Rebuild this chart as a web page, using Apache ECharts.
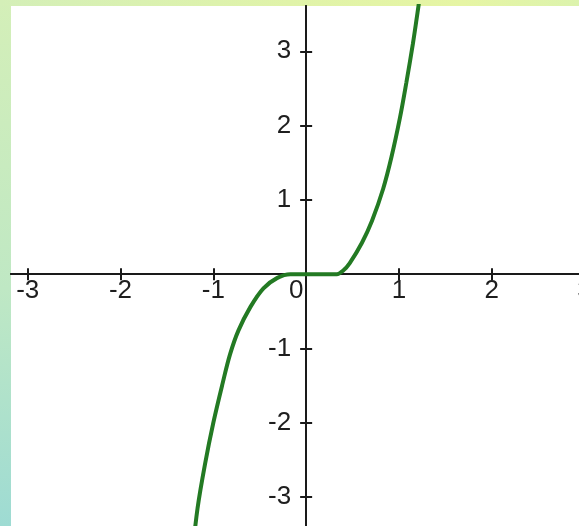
<!DOCTYPE html>
<html>
<head>
<meta charset="utf-8">
<script src="https://cdn.jsdelivr.net/npm/echarts@6/dist/echarts.min.js"></script>
<style>
html, body { margin: 0; padding: 0; width: 579px; height: 526px; overflow: hidden; }
body { background: linear-gradient(to bottom, #d4efb8 0%, #bfe8c4 55%, #9edbd3 100%); position: relative; }
#top { position: absolute; left: 0; top: 0; width: 579px; height: 6px;
  background: linear-gradient(to right, #d4efb8 0%, #e0f3a9 50%, #e6f5a4 80%, #dcf3ad 100%); }
#paper { position: absolute; left: 11px; top: 6px; width: 568px; height: 520px; background: #ffffff; }
#chart { position: absolute; left: 0; top: 0; width: 579px; height: 526px; }
</style>
</head>
<body>
<div id="top"></div>
<div id="paper"></div>
<div id="chart"></div>
<script>
// Curve points
const curveX = [-1.22, -1.17, -1.09, -1.00, -0.90, -0.82, -0.73, -0.60, -0.46, -0.31, -0.17, 0.00, 0.20, 0.33, 0.40, 0.47, 0.60, 0.71, 0.83, 0.92, 1.01, 1.08, 1.15, 1.20, 1.23];
const curveY = [-3.70, -3.15, -2.56, -2.00, -1.47, -1.08, -0.76, -0.44, -0.19, -0.05, 0.00, 0.00, 0.00, 0.00, 0.05, 0.15, 0.42, 0.72, 1.15, 1.58, 2.10, 2.58, 3.10, 3.52, 3.78];
const xTicks = [-3, -2, -1, 0, 1, 2, 3];
const yTicks = [-3, -2, -1, 1, 2, 3];
const xLabelValues = [-3, -2, -1, 0, 1, 2, 3];
const xLabels = ['-3', '-2', '-1', '0', '1', '2', '3'];
const yLabels = ['-3', '-2', '-1', '1', '2', '3'];
const xRange = [-3.18, 2.94];
const yRange = [-3.39, 3.61];

const chart = echarts.init(document.getElementById('chart'));
const font = { fontFamily: 'Liberation Sans', fontSize: 26, color: '#1e1e1e', opacity: 1 };
const axisLine = { show: true, onZero: true, lineStyle: { color: '#1a1a1a', width: 2 } };
const tick = (vals) => ({ show: true, length: 6, lineStyle: { color: '#1a1a1a', width: 2 }, customValues: vals });

chart.setOption({
  animation: false,
  grid: { left: 11, top: 6, right: 0, bottom: 0, show: false, outerBoundsMode: 'none' },
  xAxis: [
    { type: 'value', position: 'bottom', min: xRange[0], max: xRange[1], axisLine: axisLine,
      axisTick: tick(xTicks), splitLine: { show: false }, axisLabel: { show: false } },
    { type: 'value', position: 'top', min: xRange[0], max: xRange[1], axisLine: axisLine,
      axisTick: tick(xTicks), splitLine: { show: false }, axisLabel: { show: false } }
  ],
  yAxis: [
    { type: 'value', position: 'left', min: yRange[0], max: yRange[1], axisLine: axisLine,
      axisTick: tick(yTicks), splitLine: { show: false }, axisLabel: { show: false } },
    { type: 'value', position: 'right', min: yRange[0], max: yRange[1], axisLine: axisLine,
      axisTick: tick(yTicks), splitLine: { show: false }, axisLabel: { show: false } }
  ],
  series: [
    {
      type: 'line', xAxisIndex: 0, yAxisIndex: 0, showSymbol: false, smooth: 0.35,
      lineStyle: { color: '#237a23', width: 4 },
      data: curveX.map((x, i) => [x, curveY[i]])
    },
    {
      // x tick labels, placed through the x scale at y = 0
      type: 'scatter', xAxisIndex: 0, yAxisIndex: 0, symbolSize: 2, silent: true, clip: false,
      itemStyle: { color: 'rgba(0,0,0,0)' },
      label: Object.assign({ show: true, position: 'bottom', distance: 3,
        formatter: p => xLabels[p.dataIndex] }, font),
      labelLayout: p => (xLabelValues[p.dataIndex] === 0 ? { dx: -10 } : {}),
      data: xLabelValues.map(v => [v, 0])
    },
    {
      // y tick labels, placed through the y scale at x = 0
      type: 'scatter', xAxisIndex: 0, yAxisIndex: 0, symbolSize: 2, silent: true, clip: false,
      itemStyle: { color: 'rgba(0,0,0,0)' },
      label: Object.assign({ show: true, position: 'left', distance: 14,
        formatter: p => yLabels[p.dataIndex] }, font),
      data: yTicks.map(v => [0, v])
    }
  ]
});
</script>
</body>
</html>
